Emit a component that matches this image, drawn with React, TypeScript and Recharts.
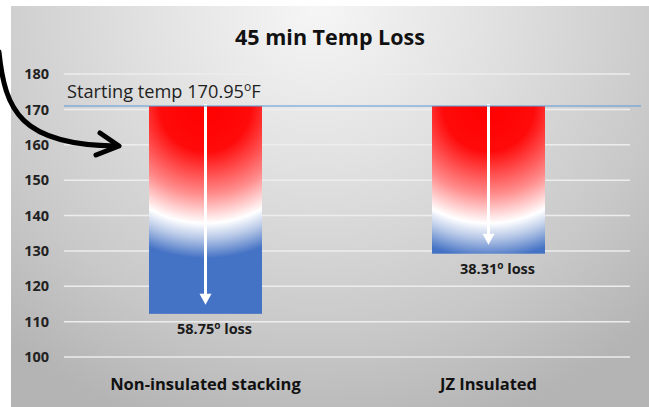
import React from 'react';
import { BarChart, Bar, XAxis, YAxis, CartesianGrid, ReferenceLine, LabelList } from 'recharts';

const categories = ['Non-insulated stacking', 'JZ Insulated'];
const startTemp = 170.95;
const endTemps = [112.2, 129.2];
const lossLabels = ['58.75', '38.31'];
const yTicks = [100, 110, 120, 130, 140, 150, 160, 170, 180];

const data = categories.map((name, i) => ({
  name,
  range: [endTemps[i], startTemp],
  loss: lossLabels[i],
}));

const FONT = '"Open Sans", Lato, sans-serif';

const GradBar = (props: any) => {
  const { x, y, width, height, index } = props;
  if (width == null || height == null) return null;
  const id = `barGrad${index}`;
  const cx = x + width / 2;
  const bottom = y + height;
  const tip = bottom - 9;
  return (
    <g>
      <defs>
        <radialGradient id={id} gradientUnits="userSpaceOnUse" cx={cx} cy={y} r={175} fx={cx} fy={y}>
          <stop offset="0" stopColor="#ff0000" />
          <stop offset="0.26" stopColor="#ff0a0a" />
          <stop offset="0.5" stopColor="#ff8a8a" />
          <stop offset="0.67" stopColor="#ffffff" />
          <stop offset="0.76" stopColor="#b3c5e6" />
          <stop offset="0.87" stopColor="#4472c4" />
          <stop offset="1" stopColor="#4472c4" />
        </radialGradient>
      </defs>
      <rect x={x} y={y} width={width} height={height} fill={`url(#${id})`} />
      <line x1={cx} y1={y - 2} x2={cx} y2={tip - 9} stroke="#ffffff" strokeWidth={3} />
      <polygon points={`${cx - 6},${tip - 11} ${cx + 6},${tip - 11} ${cx},${tip}`} fill="#ffffff" />
    </g>
  );
};

const LossLabel = (props: any) => {
  const { x, y, width, height, value } = props;
  const cx = x + width / 2 + 9;
  const by = y + height + 20;
  return (
    <text x={cx} y={by} textAnchor="middle" fontFamily={FONT} fontWeight={700} fontSize={14.5} fill="#1a1a1a">
      <tspan>{value}</tspan>
      <tspan fontSize={10} dy={-5}>o</tspan>
      <tspan dy={5}> loss</tspan>
    </text>
  );
};

const StartLine = (props: any) => {
  const { x1, y1, x2, y2 } = props;
  return (
    <g>
      <line x1={x1} y1={y1} x2={x2 + 11} y2={y2} stroke="#5b9bd5" strokeWidth={1.2} />
      <text x={x1 + 3} y={y1 - 8} fontFamily={FONT} fontSize={18.2} fill="#1e1e1e">
        <tspan>Starting temp 170.95</tspan>
        <tspan fontSize={12} dy={-7}>o</tspan>
        <tspan dy={7}>F</tspan>
      </text>
    </g>
  );
};

export default function App() {
  return (
    <div
      style={{
        position: 'absolute',
        left: 0,
        top: 0,
        width: 649,
        height: 407,
        background: '#ffffff',
        overflow: 'hidden',
      }}
    >
      <div
        style={{
          position: 'absolute',
          left: 11,
          top: 6,
          width: 638,
          height: 401,
          background:
            'radial-gradient(ellipse 75% 110% at 48% 0%, #f6f6f6 0%, #e2e2e2 35%, #c8c8c8 75%, #b4b4b4 100%)',
        }}
      />
      <div style={{ position: 'absolute', left: 0, top: 0 }}>
        <BarChart
          width={649}
          height={407}
          data={data}
          margin={{ top: 74, right: 19, left: 0, bottom: 0 }}
        >
          <text x={330} y={45} textAnchor="middle" fontFamily={FONT} fontWeight={700} fontSize={21.5} fill="#111">
            45 min Temp Loss
          </text>
          <CartesianGrid horizontal vertical={false} stroke="#ededed" strokeWidth={1.5} />
          <XAxis
            dataKey="name"
            axisLine={false}
            tickLine={false}
            height={50}
            tickMargin={15}
            tick={{ fontFamily: FONT, fontWeight: 700, fontSize: 16.5, fill: '#111' }}
          />
          <YAxis
            width={64}
            domain={[100, 180]}
            ticks={yTicks}
            interval={0}
            axisLine={false}
            tickLine={false}
            tickMargin={9}
            tick={{ fontFamily: FONT, fontWeight: 700, fontSize: 14.5, fill: '#222' }}
          />
          <ReferenceLine y={startTemp} shape={StartLine} />
          <Bar dataKey="range" barSize={113} shape={GradBar} isAnimationActive={false}>
            <LabelList dataKey="loss" content={LossLabel} />
          </Bar>
        </BarChart>
      </div>
      <svg
        width={649}
        height={407}
        style={{ position: 'absolute', left: 0, top: 0, pointerEvents: 'none' }}
      >
        <path d="M -1 52 C 5 110, 20 145, 116 146" fill="none" stroke="#000" strokeWidth={5} strokeLinecap="round" />
        <path d="M 100 133 L 119 146 L 96 155" fill="none" stroke="#000" strokeWidth={5} strokeLinecap="round" strokeLinejoin="round" />
      </svg>
    </div>
  );
}
